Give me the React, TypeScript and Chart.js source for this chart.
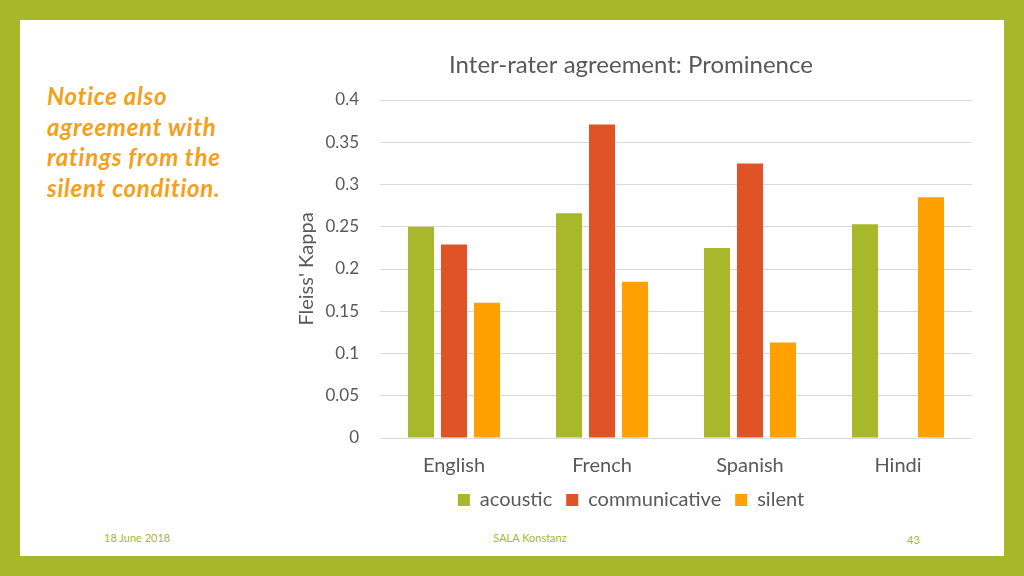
import React, { useEffect, useRef } from "react";
import { Chart, registerables } from "chart.js";

Chart.register(...registerables);

const categories = ["English", "French", "Spanish", "Hindi"];
const acoustic = [0.25, 0.266, 0.225, 0.253];
const communicative = [0.229, 0.371, 0.325, null];
const silent = [0.16, 0.185, 0.113, 0.285];
const yTicks = [0, 0.05, 0.1, 0.15, 0.2, 0.25, 0.3, 0.35, 0.4];

const FONT = "Lato, 'Open Sans', sans-serif";
const GRAY = "#595959";

export default function App() {
  const canvasRef = useRef<HTMLCanvasElement | null>(null);

  useEffect(() => {
    document.body.style.margin = "0";
    const ctx = canvasRef.current;
    if (!ctx) return;
    const chart = new Chart(ctx, {
      type: "bar",
      data: {
        labels: categories,
        datasets: [
          { label: "acoustic", data: acoustic, backgroundColor: "#A7B82A" },
          { label: "communicative", data: communicative, backgroundColor: "#DF5327" },
          { label: "silent", data: silent, backgroundColor: "#FFA100" },
        ],
      },
      options: {
        animation: false,
        responsive: false,
        maintainAspectRatio: false,
        datasets: {
          bar: { categoryPercentage: 0.669, barPercentage: 0.79 },
        },
        layout: { padding: { left: 0, right: 0, top: 0, bottom: 3 } },
        plugins: {
          title: {
            display: true,
            text: "Inter-rater agreement: Prominence",
            color: GRAY,
            font: { family: FONT, size: 24, weight: "normal" },
            padding: { top: 7.6, bottom: 20.6 },
          },
          legend: {
            position: "bottom",
            labels: {
              color: GRAY,
              font: { family: FONT, size: 20 },
              boxWidth: 12,
              boxHeight: 12,
              padding: 14,
            },
          },
          tooltip: { enabled: false },
        },
        scales: {
          x: {
            afterFit: (scale: any) => {
              scale.height = 38;
            },
            grid: { display: false, drawTicks: false },
            border: { display: true, color: "#D9D9D9" },
            ticks: {
              color: GRAY,
              font: { family: FONT, size: 20 },
              padding: 16,
            },
          },
          y: {
            min: 0,
            max: 0.4,
            afterBuildTicks: (scale: any) => {
              scale.ticks = yTicks.map((v) => ({ value: v }));
            },
            afterFit: (scale: any) => {
              scale.width = 90;
            },
            grid: { color: "#D9D9D9", drawTicks: false },
            border: { display: false },
            ticks: {
              color: GRAY,
              font: { family: FONT, size: 17 },
              padding: 21,
              callback: (v: any) => String(Number(v)),
            },
            title: {
              display: true,
              text: "Fleiss' Kappa",
              color: GRAY,
              font: { family: FONT, size: 20 },
              padding: { top: 5, bottom: 0 },
            },
          },
        },
      },
    });
    return () => chart.destroy();
  }, []);

  return (
    <div
      style={{
        position: "fixed",
        left: 0,
        top: 0,
        width: 1024,
        height: 576,
        background: "#A6B82A",
        overflow: "hidden",
      }}
    >
      <div
        style={{
          position: "absolute",
          left: 20,
          top: 20,
          width: 984,
          height: 536,
          background: "#FFFFFF",
        }}
      />
      <div
        style={{
          position: "absolute",
          left: 47,
          top: 81,
          width: 250,
          color: "#F5A01A",
          fontFamily: FONT,
          fontStyle: "italic",
          fontWeight: "bold",
          fontSize: 24,
          letterSpacing: 0.75,
          lineHeight: "30.5px",
        }}
      >
        Notice also
        <br />
        agreement with
        <br />
        ratings from the
        <br />
        silent condition.
      </div>
      <canvas
        ref={canvasRef}
        width={682}
        height={480}
        style={{ position: "absolute", left: 290, top: 43, width: 682, height: 480 }}
      />
      <div
        style={{
          position: "absolute",
          left: 104,
          top: 531,
          color: "#A6B82A",
          fontFamily: FONT,
          fontSize: 11,
        }}
      >
        18 June  2018
      </div>
      <div
        style={{
          position: "absolute",
          left: 430,
          width: 200,
          top: 531,
          textAlign: "center",
          color: "#A6B82A",
          fontFamily: FONT,
          fontSize: 11,
        }}
      >
        SALA Konstanz
      </div>
      <div
        style={{
          position: "absolute",
          left: 907,
          top: 533,
          color: "#A6B82A",
          fontFamily: FONT,
          fontSize: 11,
        }}
      >
        43
      </div>
    </div>
  );
}
